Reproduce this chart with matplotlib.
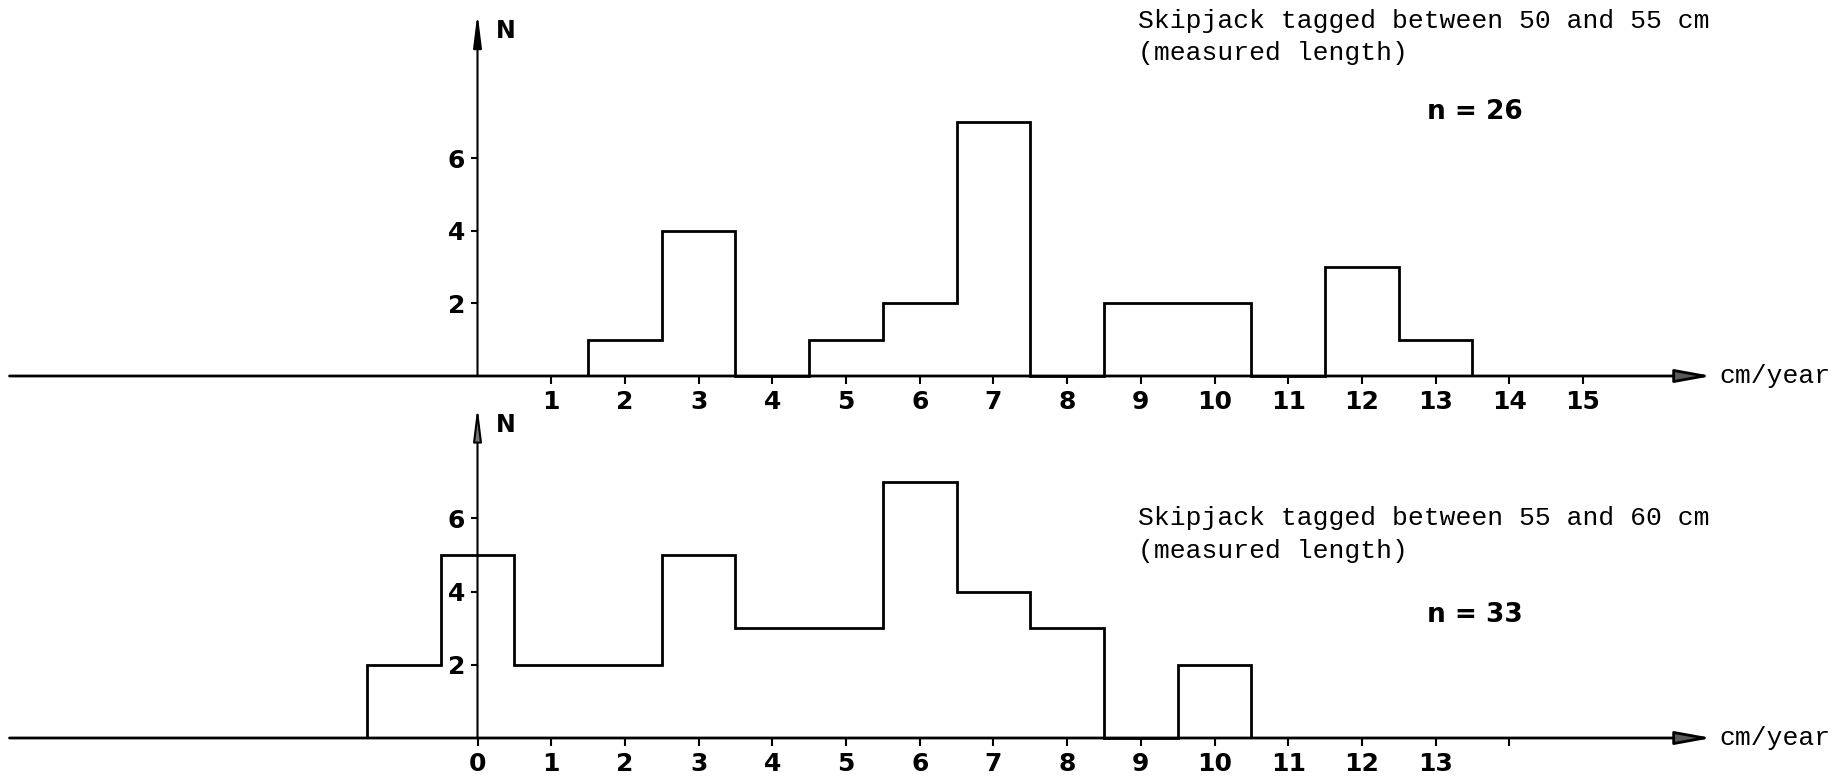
import matplotlib
matplotlib.use('Agg')
import matplotlib.pyplot as plt
import numpy as np

# top panel: skipjack tagged 50-55 cm, bins centred on 2..13 cm/year
top_centres = np.arange(2, 14)
top_counts = [1, 4, 0, 1, 2, 7, 0, 2, 2, 0, 3, 1]
top_xticks = list(range(1, 16))
top_title = ['Skipjack tagged between 50 and 55 cm', '(measured length)']
top_n = 'n = 26'

# bottom panel: skipjack tagged 55-60 cm, bins centred on -1..10 cm/year
bot_centres = np.arange(-1, 11)
bot_counts = [2, 5, 2, 2, 5, 3, 3, 7, 4, 3, 0, 2]
bot_xticks = list(range(0, 15))
bot_xlabels = [str(v) for v in range(0, 14)] + ['']
bot_title = ['Skipjack tagged between 55 and 60 cm', '(measured length)']
bot_n = 'n = 33'

yticks = [2, 4, 6]

W, H = 1849, 776
fig = plt.figure(figsize=(W / 100, H / 100), dpi=100)

x0_px = 477.5      # pixel of x = 0
ux = 73.7          # pixels per cm/year
xlim = (-x0_px / ux, (W - x0_px) / ux)


def panel(base_px, uy, centres, counts, xticks, xlabels, title, ntext,
          ytip, ytitle, yn, ycol):
    ax = fig.add_axes([0, 0, 1, 1])
    ax.patch.set_alpha(0)
    ax.set_xlim(*xlim)
    below = H - base_px
    ax.set_ylim(-below / uy, base_px / uy)
    for s in ax.spines.values():
        s.set_visible(False)
    ax.spines['bottom'].set_position(('data', 0))
    ax.spines['left'].set_position(('data', 0))

    edges = np.append(centres - 0.5, centres[-1] + 0.5)
    ax.stairs(counts, edges, baseline=0, color='black', lw=2.0)

    # axes with arrowheads
    ax.annotate('', xy=(16.75, 0), xytext=(-6.35, 0),
                arrowprops=dict(arrowstyle='-|>,head_length=2.2,head_width=0.4',
                                lw=2.0, color='black', fc=ycol[1],
                                shrinkA=0, shrinkB=0))
    ax.annotate('', xy=(0, ytip), xytext=(0, 0),
                arrowprops=dict(arrowstyle='-|>,head_length=2.0,head_width=0.25',
                                lw=1.5, color='black', fc=ycol[0],
                                shrinkA=0, shrinkB=0))
    ax.text(16.85, 0, 'cm/year', family='Liberation Mono', fontsize=19,
            va='center', ha='left')
    ax.text(0.25, ytip - 0.5, 'N', fontsize=17, fontweight='bold',
            va='center', ha='left')

    ax.set_xticks(xticks)
    ax.set_xticklabels(xlabels)
    ax.set_yticks(yticks)
    ax.tick_params(axis='x', direction='out', length=6, width=1.5, pad=4,
                   labelsize=18)
    ax.tick_params(axis='y', direction='out', length=5, width=1.5, pad=4,
                   labelsize=18)
    for lab in ax.get_xticklabels() + ax.get_yticklabels():
        lab.set_fontweight('bold')

    ax.text(8.96, ytitle, title[0], family='Liberation Mono', fontsize=19,
            va='center', ha='left')
    ax.text(8.96, ytitle - 0.88, title[1], family='Liberation Mono',
            fontsize=19, va='center', ha='left')
    ax.text(12.88, yn, ntext, fontsize=19, fontweight='bold',
            va='center', ha='left')
    return ax


panel(376, 36.3, top_centres, top_counts, top_xticks,
      [str(v) for v in top_xticks], top_title, top_n,
      10.0, 9.77, 7.27, ('black', '0.35'))
panel(738, 36.6, bot_centres, bot_counts, bot_xticks, bot_xlabels,
      bot_title, bot_n, 9.06, 6.0, 3.35, ('0.45', '0.35'))

fig.savefig('out.png', dpi=100)
